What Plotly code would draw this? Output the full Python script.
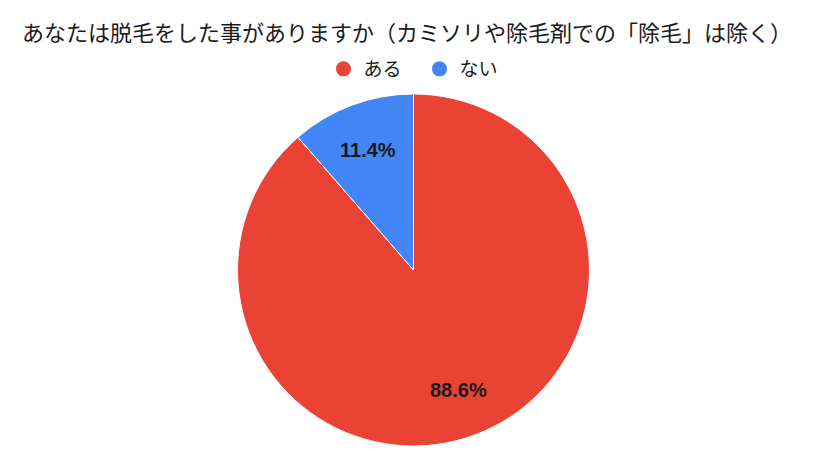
import math
import plotly.graph_objects as go

# data
labels = ["ある", "ない"]
values = [88.6, 11.4]
colors = ["#EA4335", "#4285F4"]

title_text = "あなたは脱毛をした事がありますか（カミソリや除毛剤での「除毛」は除く）"

# the page puts the figure 8px in from the top-left corner, so shift back
W, H = 827, 464
margin_l, margin_r, margin_t, margin_b = 0, 16, 86, 26
plot_w = W - margin_l - margin_r
plot_h = H - margin_t - margin_b

fig = go.Figure()

fig.add_trace(go.Pie(
    labels=labels,
    values=values,
    sort=False,
    direction="clockwise",
    rotation=0,
    marker=dict(colors=colors, line=dict(color="white", width=1)),
    textinfo="none",
    showlegend=False,
    hoverinfo="label+percent",
))

# percentage labels on the slice bisectors, about 0.73 of the radius out
total = sum(values)
r = min(plot_w, plot_h) / 2
start = 0.0
for v in values:
    mid = (start + v / 2) / total * 2 * math.pi
    start += v
    dx = 0.73 * r * math.sin(mid)
    dy = 0.73 * r * math.cos(mid)
    fig.add_annotation(
        x=0.5 + dx / plot_w, y=0.5 + dy / plot_h,
        xref="paper", yref="paper",
        xanchor="center", yanchor="middle",
        text=f"{v / total * 100:.1f}%",
        showarrow=False,
        font=dict(family="Liberation Sans", size=20, color="#1a1a1a", weight="bold"),
    )

# legend entries with round markers, like the original
for name, col in zip(labels, colors):
    fig.add_trace(go.Scatter(
        x=[None], y=[None], mode="markers", name=name,
        marker=dict(symbol="circle", size=15, color=col),
    ))

fig.update_layout(
    width=W,
    height=H,
    paper_bgcolor="white",
    plot_bgcolor="white",
    margin=dict(l=margin_l, r=margin_r, t=margin_t, b=margin_b, autoexpand=False),
    font=dict(family="Noto Sans CJK JP", color="#1a1a1a"),
    title=dict(
        text=title_text,
        font=dict(family="Noto Sans CJK JP", size=22, color="#1a1a1a"),
        xref="container", yref="container",
        x=14 / W, xanchor="left",
        y=1 - 25 / H, yanchor="middle",
    ),
    legend=dict(
        orientation="h",
        xref="container", yref="container",
        x=(W / 2 - 2) / W, xanchor="center",
        y=1 - 61 / H, yanchor="middle",
        font=dict(family="Noto Sans CJK JP", size=19, color="#1a1a1a"),
        itemsizing="trace",
        entrywidth=51,
    ),
    xaxis=dict(visible=False),
    yaxis=dict(visible=False),
)

fig.write_html("out.html")
